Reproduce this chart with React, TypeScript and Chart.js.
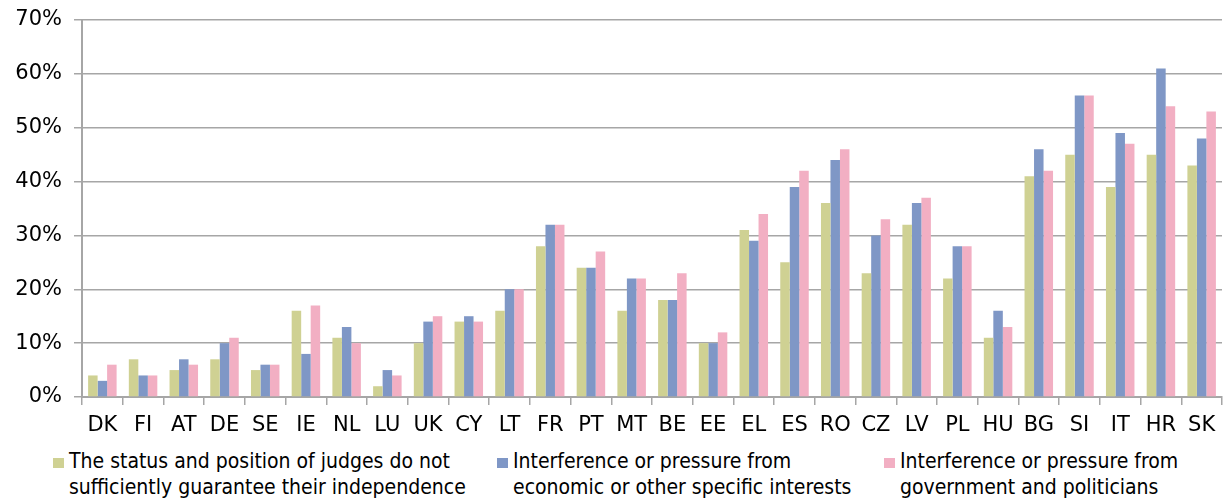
import React, { useEffect, useRef } from "react";
import { Chart, registerables } from "chart.js";

Chart.register(...registerables);

const categories = ["DK","FI","AT","DE","SE","IE","NL","LU","UK","CY","LT","FR","PT","MT","BE","EE","EL","ES","RO","CZ","LV","PL","HU","BG","SI","IT","HR","SK"];
const statusJudges = [4,7,5,7,5,16,11,2,10,14,16,28,24,16,18,10,31,25,36,23,32,22,11,41,45,39,45,43];
const economicInterests = [3,4,7,10,6,8,13,5,14,15,20,32,24,22,18,10,29,39,44,30,36,28,16,46,56,49,61,48];
const governmentPoliticians = [6,4,6,11,6,17,10,4,15,14,20,32,27,22,23,12,34,42,46,33,37,28,13,42,56,47,54,53];
const yTicks = [0,10,20,30,40,50,60,70];

const seriesLabels = [
  ["The status and position of judges do not", "sufficiently guarantee their independence"],
  ["Interference or pressure from", "economic or other specific interests"],
  ["Interference or pressure from", "government and politicians"],
];
const colors = ["#CFD193", "#7F97C6", "#F2AFC3"];

export default function App() {
  const ref = useRef<HTMLCanvasElement | null>(null);
  useEffect(() => {
    if (!ref.current) return;
    const chart = new Chart(ref.current, {
      type: "bar",
      data: {
        labels: categories,
        datasets: [statusJudges, economicInterests, governmentPoliticians].map((d, i) => ({
          label: seriesLabels[i].join(" "),
          data: d,
          backgroundColor: colors[i],
          borderWidth: 0,
          categoryPercentage: 0.7,
          barPercentage: 1.0,
        })),
      },
      options: {
        animation: false,
        responsive: false,
        maintainAspectRatio: false,
        layout: { autoPadding: false, padding: { top: 20, right: 1, left: 0, bottom: 0 } },
        plugins: { legend: { display: false }, tooltip: { enabled: false } },
        scales: {
          x: {
            grid: { drawOnChartArea: false, tickLength: 8, color: "#A6A6A6", lineWidth: 1.5, offset: true },
            border: { color: "#A6A6A6", width: 2 },
            ticks: { color: "#000", font: { family: "DejaVu Sans", size: 21 }, padding: 8, maxRotation: 0, autoSkip: false },
            afterFit: (s: any) => { s.height = 48; s.paddingLeft = 0; s.paddingRight = 0; },
          },
          y: {
            min: 0,
            max: 70,
            afterBuildTicks: (s: any) => { s.ticks = yTicks.map((v) => ({ value: v })); },
            grid: { tickLength: 8, color: "#A6A6A6", lineWidth: 1.5 },
            border: { color: "#A6A6A6", width: 2 },
            ticks: { color: "#000", font: { family: "DejaVu Sans", size: 21 }, padding: 12, callback: (v: any) => v + "%" },
            afterFit: (s: any) => { s.width = 82; s.paddingTop = 0; s.paddingBottom = 0; },
          },
        },
      },
    });
    return () => chart.destroy();
  }, []);

  const legendLefts = [53, 497, 884];
  return (
    <div style={{ position: "absolute", left: 0, top: 0, width: 1223, height: 499, background: "#fff", overflow: "hidden" }}>
      <canvas ref={ref} width={1223} height={445} style={{ position: "absolute", left: 0, top: 0, width: 1223, height: 445 }} />
      {seriesLabels.map((lines, i) => (
        <div key={i} style={{ position: "absolute", left: legendLefts[i], top: 448, display: "flex", alignItems: "flex-start" }}>
          <div style={{ width: 11, height: 10, background: colors[i], marginTop: 10, marginRight: 5, flex: "none" }} />
          <div style={{ fontFamily: "'DejaVu Sans Condensed', 'DejaVu Sans'", fontStretch: "condensed", fontSize: 21, lineHeight: "26px", color: "#000", whiteSpace: "nowrap" }}>
            {lines.map((l, j) => (<div key={j}>{l}</div>))}
          </div>
        </div>
      ))}
    </div>
  );
}
